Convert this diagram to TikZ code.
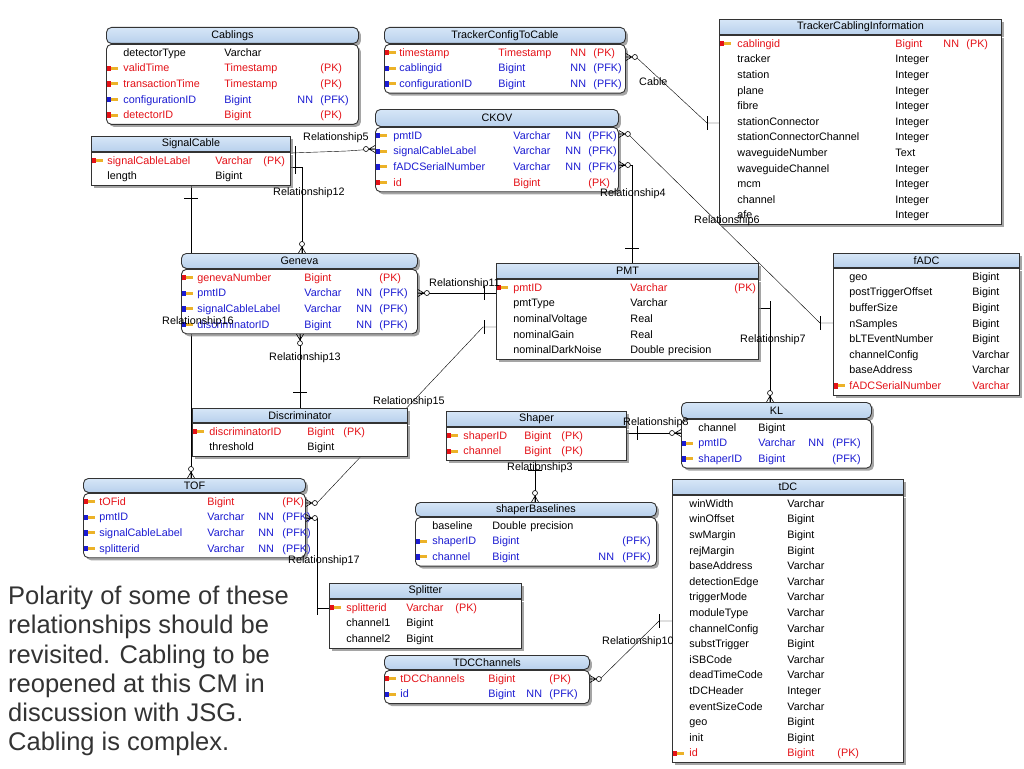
\documentclass[tikz,border=0pt]{standalone}
\usepackage{fontspec}
\setmainfont{Liberation Sans}
\usepackage{array}
\usetikzlibrary{shadows,backgrounds}
\definecolor{pkred}{RGB}{228,18,24}
\definecolor{fkblue}{RGB}{28,28,210}
\definecolor{hdrtop}{RGB}{214,230,247}
\definecolor{hdrbot}{RGB}{184,208,236}
\definecolor{keygold}{RGB}{236,178,40}
\newcolumntype{Q}[1]{@{}p{#1pt}}
\newcommand\redt[1]{\textcolor{pkred}{#1}}
\newcommand\bluet[1]{\textcolor{fkblue}{#1}}
\newcommand\keyr{\leavevmode\kern1pt{\color{pkred}\rule[0.8pt]{3.2pt}{5.4pt}}{\color{keygold}\rule[2pt]{7pt}{3pt}}}
\newcommand\keyb{\leavevmode\kern1pt{\color{fkblue}\rule[0.8pt]{3.2pt}{5.4pt}}{\color{keygold}\rule[2pt]{7pt}{3pt}}}
\begin{document}
\begin{tikzpicture}[x=1pt, y=-1pt,
  every node/.style={font=\fontsize{10.8}{15.6}\selectfont},
  hdr/.style={draw=black!80, line width=0.9pt, top color=hdrtop, bottom color=hdrbot,
    anchor=north west, inner sep=0pt,
    drop shadow={shadow xshift=2.5pt, shadow yshift=-2.5pt, fill=black!50, opacity=0.7}},
  hdrr/.style={hdr, rounded corners=5pt},
  bdy/.style={draw=black!80, line width=0.9pt, fill=white, anchor=north west,
    inner xsep=0pt, inner ysep=1pt, align=left,
    drop shadow={shadow xshift=2.5pt, shadow yshift=-2.5pt, fill=black!50, opacity=0.7}},
  bdyr/.style={bdy, rounded corners=5pt},
  rel/.style={anchor=west, inner sep=0pt},
  conn/.style={draw=black!85, line width=0.7pt},
  manyopt/.pic={\draw[line width=0.6pt] (-6,0) -- (0,-3.5) (-6,0) -- (0,3.5) (-6,0) -- (0,0);
    \draw[line width=0.6pt, fill=white] (-9,0) circle (2.5);},
  onebar/.pic={\draw[line width=0.7pt] (0,-7) -- (0,7);}]
\useasboundingbox (0,0) rectangle (1024,768);

% tables
\node[hdrr, minimum width=252pt, minimum height=16pt] (cabh) at (106,27) {Cablings};
\node[bdyr, text width=252pt] (cab) at (cabh.south west) {\begin{tabular}{Q{17}Q{101}Q{73}Q{23}@{}l@{}}
 & detectorType & Varchar & & \\
\keyr & \redt{validTime} & \redt{Timestamp} & & \redt{(PK)}\\
\keyr & \redt{transactionTime} & \redt{Timestamp} & & \redt{(PK)}\\
\keyb & \bluet{configurationID} & \bluet{Bigint} & \bluet{NN} & \bluet{(PFK)}\\
\keyr & \redt{detectorID} & \redt{Bigint} & & \redt{(PK)}
\end{tabular}};

\node[hdrr, minimum width=241pt, minimum height=16pt] (tcch) at (384,27) {TrackerConfigToCable};
\node[bdyr, text width=241pt] (tcc) at (tcch.south west) {\begin{tabular}{Q{15}Q{99}Q{72}Q{23}@{}l@{}}
\keyr & \redt{timestamp} & \redt{Timestamp} & \redt{NN} & \redt{(PK)}\\
\keyb & \bluet{cablingid} & \bluet{Bigint} & \bluet{NN} & \bluet{(PFK)}\\
\keyb & \bluet{configurationID} & \bluet{Bigint} & \bluet{NN} & \bluet{(PFK)}
\end{tabular}};

\node[hdrr, minimum width=243pt, minimum height=17pt] (ckovh) at (375,109) {CKOV};
\node[bdyr, text width=243pt] (ckov) at (ckovh.south west) {\begin{tabular}{Q{18}Q{120}Q{52}Q{23}@{}l@{}}
\keyb & \bluet{pmtID} & \bluet{Varchar} & \bluet{NN} & \bluet{(PFK)}\\
\keyb & \bluet{signalCableLabel} & \bluet{Varchar} & \bluet{NN} & \bluet{(PFK)}\\
\keyb & \bluet{fADCSerialNumber} & \bluet{Varchar} & \bluet{NN} & \bluet{(PFK)}\\
\keyr & \redt{id} & \redt{Bigint} & & \redt{(PK)}
\end{tabular}};

\node[hdr, minimum width=282pt, minimum height=15pt] (tcih) at (719,19) {TrackerCablingInformation};
\node[bdy, text width=282pt] (tci) at (tcih.south west) {\begin{tabular}{Q{18}Q{158}Q{48}Q{23}@{}l@{}}
\keyr & \redt{cablingid} & \redt{Bigint} & \redt{NN} & \redt{(PK)}\\
 & tracker & Integer & & \\
 & station & Integer & & \\
 & plane & Integer & & \\
 & fibre & Integer & & \\
 & stationConnector & Integer & & \\
 & stationConnectorChannel & Integer & & \\
 & waveguideNumber & Text & & \\
 & waveguideChannel & Integer & & \\
 & mcm & Integer & & \\
 & channel & Integer & & \\
 & afe & Integer & &
\end{tabular}};

\node[hdr, minimum width=199pt, minimum height=15pt] (sch) at (91,136) {SignalCable};
\node[bdy, text width=199pt] (sc) at (sch.south west) {\begin{tabular}{Q{16}Q{108}Q{48}Q{0}@{}l@{}}
\keyr & \redt{signalCableLabel} & \redt{Varchar} & & \redt{(PK)}\\
 & length & Bigint & &
\end{tabular}};

\node[hdrr, minimum width=236pt, minimum height=15pt] (genh) at (181,253) {Geneva};
\node[bdyr, text width=236pt] (gen) at (genh.south west) {\begin{tabular}{Q{16}Q{107}Q{52}Q{23}@{}l@{}}
\keyr & \redt{genevaNumber} & \redt{Bigint} & & \redt{(PK)}\\
\keyb & \bluet{pmtID} & \bluet{Varchar} & \bluet{NN} & \bluet{(PFK)}\\
\keyb & \bluet{signalCableLabel} & \bluet{Varchar} & \bluet{NN} & \bluet{(PFK)}\\
\keyb & \bluet{discriminatorID} & \bluet{Bigint} & \bluet{NN} & \bluet{(PFK)}
\end{tabular}};

\node[hdr, minimum width=262pt, minimum height=15pt] (pmth) at (496,263) {PMT};
\node[bdy, text width=262pt] (pmt) at (pmth.south west) {\begin{tabular}{Q{17}Q{117}Q{104}Q{0}@{}l@{}}
\keyr & \redt{pmtID} & \redt{Varchar} & & \redt{(PK)}\\
 & pmtType & Varchar & & \\
 & nominalVoltage & Real & & \\
 & nominalGain & Real & & \\
 & nominalDarkNoise & Double precision & &
\end{tabular}};

\node[hdr, minimum width=186pt, minimum height=14pt] (fadch) at (833,253) {fADC};
\node[bdy, text width=186pt] (fadc) at (fadch.south west) {\begin{tabular}{Q{16}Q{123}Q{47}@{}l@{}}
 & geo & Bigint & \\
 & postTriggerOffset & Bigint & \\
 & bufferSize & Bigint & \\
 & nSamples & Bigint & \\
 & bLTEventNumber & Bigint & \\
 & channelConfig & Varchar & \\
 & baseAddress & Varchar & \\
\keyr & \redt{fADCSerialNumber} & \redt{Varchar} &
\end{tabular}};

\node[hdr, minimum width=215pt, minimum height=14pt] (disch) at (192,408) {Discriminator};
\node[bdy, text width=215pt] (disc) at (disch.south west) {\begin{tabular}{Q{17}Q{98}Q{36}Q{0}@{}l@{}}
\keyr & \redt{discriminatorID} & \redt{Bigint} & & \redt{(PK)}\\
 & threshold & Bigint & &
\end{tabular}};

\node[hdrr, minimum width=222pt, minimum height=14pt] (tofh) at (83,478) {TOF};
\node[bdyr, text width=222pt] (tof) at (tofh.south west) {\begin{tabular}{Q{16}Q{108}Q{51}Q{24}@{}l@{}}
\keyr & \redt{tOFid} & \redt{Bigint} & & \redt{(PK)}\\
\keyb & \bluet{pmtID} & \bluet{Varchar} & \bluet{NN} & \bluet{(PFK)}\\
\keyb & \bluet{signalCableLabel} & \bluet{Varchar} & \bluet{NN} & \bluet{(PFK)}\\
\keyb & \bluet{splitterid} & \bluet{Varchar} & \bluet{NN} & \bluet{(PFK)}
\end{tabular}};

\node[hdr, minimum width=180pt, minimum height=15pt] (shph) at (446,411) {Shaper};
\node[bdy, text width=180pt] (shp) at (shph.south west) {\begin{tabular}{Q{17}Q{61}Q{37}Q{0}@{}l@{}}
\keyr & \redt{shaperID} & \redt{Bigint} & & \redt{(PK)}\\
\keyr & \redt{channel} & \redt{Bigint} & & \redt{(PK)}
\end{tabular}};

\node[hdrr, minimum width=190pt, minimum height=16pt] (klh) at (681,402) {KL};
\node[bdyr, text width=190pt] (kl) at (klh.south west) {\begin{tabular}{Q{17}Q{60}Q{50}Q{24}@{}l@{}}
 & channel & Bigint & & \\
\keyb & \bluet{pmtID} & \bluet{Varchar} & \bluet{NN} & \bluet{(PFK)}\\
\keyb & \bluet{shaperID} & \bluet{Bigint} & & \bluet{(PFK)}
\end{tabular}};

\node[hdrr, minimum width=241pt, minimum height=14pt] (sblh) at (415,502) {shaperBaselines};
\node[bdyr, text width=241pt] (sbl) at (sblh.south west) {\begin{tabular}{Q{17}Q{60}Q{106}Q{24}@{}l@{}}
 & baseline & Double precision & & \\
\keyb & \bluet{shaperID} & \bluet{Bigint} & & \bluet{(PFK)}\\
\keyb & \bluet{channel} & \bluet{Bigint} & \bluet{NN} & \bluet{(PFK)}
\end{tabular}};

\node[hdr, minimum width=231pt, minimum height=15pt] (tdch) at (672,479) {tDC};
\node[bdy, text width=231pt] (tdc) at (tdch.south west) {\begin{tabular}{Q{17}Q{98}Q{50}Q{0}@{}l@{}}
 & winWidth & Varchar & & \\
 & winOffset & Bigint & & \\
 & swMargin & Bigint & & \\
 & rejMargin & Bigint & & \\
 & baseAddress & Varchar & & \\
 & detectionEdge & Varchar & & \\
 & triggerMode & Varchar & & \\
 & moduleType & Varchar & & \\
 & channelConfig & Varchar & & \\
 & substTrigger & Bigint & & \\
 & iSBCode & Varchar & & \\
 & deadTimeCode & Varchar & & \\
 & tDCHeader & Integer & & \\
 & eventSizeCode & Varchar & & \\
 & geo & Bigint & & \\
 & init & Bigint & & \\
\keyr & \redt{id} & \redt{Bigint} & & \redt{(PK)}
\end{tabular}};

\node[hdr, minimum width=192pt, minimum height=15pt] (splh) at (329,583) {Splitter};
\node[bdy, text width=192pt] (spl) at (splh.south west) {\begin{tabular}{Q{17}Q{60}Q{49}Q{0}@{}l@{}}
\keyr & \redt{splitterid} & \redt{Varchar} & & \redt{(PK)}\\
 & channel1 & Bigint & & \\
 & channel2 & Bigint & &
\end{tabular}};

\node[hdrr, minimum width=205pt, minimum height=14pt] (tdcch) at (384,655) {TDCChannels};
\node[bdyr, text width=205pt] (tdcc) at (tdcch.south west) {\begin{tabular}{Q{16}Q{88}Q{38}Q{23}@{}l@{}}
\keyr & \redt{tDCChannels} & \redt{Bigint} & & \redt{(PK)}\\
\keyb & \bluet{id} & \bluet{Bigint} & \bluet{NN} & \bluet{(PFK)}
\end{tabular}};

% relationships, behind the tables
\begin{scope}[on background layer, conn]
\fill[white] (0,0) rectangle (1024,768);
\draw (tcc.east |- 0,57) -- (636,57) -- (707,123) -- (tci.west |- 0,123);
\draw (sc.east |- 0,153) -- (347,151) -- (ckov.west |- 0,149);
\draw (sc.east |- 0,167) -- (302,167) -- (genh.north -| 302,0);
\draw (ckov.east |- 0,165) -- (632,165) -- (pmth.north -| 632,0);
\draw (ckov.east |- 0,134) -- (628,134) -- (820,323) -- (fadc.west |- 0,323);
\draw (gen.east |- 0,293) -- (pmt.west |- 0,293);
\draw (tof.east |- 0,503) -- (317,503) -- (483,327) -- (pmt.west |- 0,327);
\draw (gen.south -| 300,0) -- (disch.north -| 300,0);
\draw (sc.south -| 191,0) -- (tofh.north -| 191,0);
\draw (tof.east |- 0,518) -- (317,518) -- (317,608) -- (spl.west |- 0,608);
\draw (shp.south -| 535,0) -- (sblh.north -| 535,0);
\draw (shp.east |- 0,433) -- (kl.west |- 0,433);
\draw (pmt.east |- 0,308) -- (770,308) -- (klh.north -| 770,0);
\draw (tdcc.east |- 0,679) -- (600,679) -- (659,621) -- (tdc.west |- 0,621);
\end{scope}

% ends
\pic[rotate=180] at (tcc.east |- 0,57) {manyopt};
\pic at (ckov.west |- 0,149) {manyopt};
\pic[rotate=-90] at (genh.north -| 302,0) {manyopt};
\pic[rotate=180] at (ckov.east |- 0,165) {manyopt};
\pic[rotate=180] at (ckov.east |- 0,134) {manyopt};
\pic[rotate=180] at (gen.east |- 0,293) {manyopt};
\pic[rotate=180] at (tof.east |- 0,503) {manyopt};
\pic[rotate=90] at (gen.south -| 300,0) {manyopt};
\pic[rotate=-90] at (tofh.north -| 191,0) {manyopt};
\pic[rotate=180] at (tof.east |- 0,518) {manyopt};
\pic[rotate=-90] at (sblh.north -| 535,0) {manyopt};
\pic at (kl.west |- 0,433) {manyopt};
\pic[rotate=-90] at (klh.north -| 770,0) {manyopt};
\pic[rotate=180] at (tdcc.east |- 0,679) {manyopt};
\pic at (707,123) {onebar};
\pic at (295,153) {onebar};
\pic at (295,167) {onebar};
\pic[rotate=90] at (632,248) {onebar};
\pic at (820,323) {onebar};
\pic at (484,293) {onebar};
\pic at (484,327) {onebar};
\pic[rotate=90] at (300,392) {onebar};
\pic[rotate=90] at (191,198) {onebar};
\pic at (317,608) {onebar};
\pic[rotate=90] at (535,470) {onebar};
\pic at (637,433) {onebar};
\pic at (770,308) {onebar};
\pic at (659,621) {onebar};

% labels
\node[rel] (lcable) at (639,82) {Cable};
\node[rel] (l5) at (303,138) {Relationship5};
\node[rel] (l12) at (273,193) {Relationship12};
\node[rel] (l4) at (600,194) {Relationship4};
\node[rel] (l6) at (694,221) {Relationship6};
\node[rel] (l11) at (429,284) {Relationship11};
\node[rel] (l16) at (162,322) {Relationship16};
\node[rel] (l13) at (269,358) {Relationship13};
\node[rel] (l15) at (373,402) {Relationship15};
\node[rel] (l7) at (740,340) {Relationship7};
\node[rel] (l8) at (623,423) {Relationship8};
\node[rel] (l3) at (507,468) {Relationship3};
\node[rel] (l17) at (288,561) {Relationship17};
\node[rel] (l10) at (602,642) {Relationship10};

\node[anchor=north west, inner sep=0pt, align=left, text=black!80,
  font=\fontsize{25.5}{29.2}\selectfont] (note) at (8,586)
  {Polarity of some of these\\relationships should be\\revisited. Cabling to be\\reopened at this CM in\\discussion with JSG.\\Cabling is complex.};
\end{tikzpicture}
\end{document}
